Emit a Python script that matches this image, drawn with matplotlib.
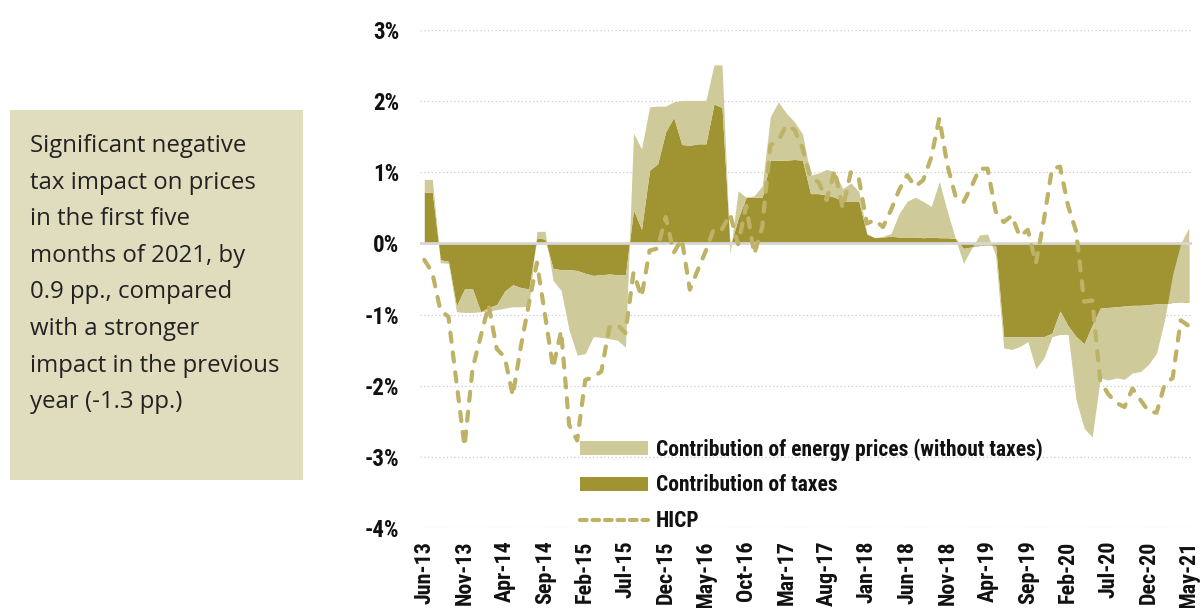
import matplotlib
matplotlib.use("Agg")
import matplotlib.pyplot as plt
from matplotlib import font_manager as fm
from matplotlib.patches import Rectangle, Patch
from matplotlib.lines import Line2D
import numpy as np

# monthly contributions, Jun-13 .. May-21 (pp.)
taxes = [
    0.72, 0.72, -0.23, -0.25, -0.88, -0.64, -0.64, -0.96, -0.90, -0.86,
    -0.67, -0.58, -0.62, -0.64, 0.08, 0.06, -0.35, -0.37, -0.37, -0.38,
    -0.42, -0.45, -0.44, -0.43, -0.44, -0.44, 0.47, 0.20, 1.03, 1.12,
    1.57, 1.77, 1.39, 1.38, 1.40, 1.40, 1.96, 1.91, -0.05, 0.35,
    0.65, 0.65, 0.65, 1.17, 1.17, 1.17, 1.18, 1.17, 0.70, 0.70,
    0.68, 0.65, 0.60, 0.59, 0.59, 0.13, 0.08, 0.09, 0.10, 0.09,
    0.09, 0.09, 0.08, 0.09, 0.08, 0.08, 0.07, -0.07, -0.05, -0.03,
    -0.02, -0.03, -1.31, -1.31, -1.31, -1.31, -1.31, -1.31, -1.26, -0.95,
    -1.16, -1.31, -1.41, -1.15, -0.91, -0.90, -0.89, -0.88, -0.87, -0.87,
    -0.86, -0.85, -0.85, -0.83, -0.82, -0.83,
]
energy = [
    0.18, 0.18, -0.04, -0.03, -0.08, -0.33, -0.33, 0.00, -0.05, -0.07,
    -0.24, -0.31, -0.27, -0.24, 0.09, 0.11, -0.17, -0.29, -0.85, -1.19,
    -1.13, -0.86, -0.88, -0.91, -0.92, -1.02, 1.08, 1.13, 0.89, 0.81,
    0.36, 0.22, 0.62, 0.63, 0.61, 0.61, 0.55, 0.60, -0.10, 0.39,
    0.00, 0.02, 0.16, 0.61, 0.82, 0.66, 0.53, 0.37, 0.26, 0.29,
    0.36, 0.36, 0.17, 0.26, 0.14, 0.01, 0.00, 0.01, 0.04, 0.33,
    0.50, 0.56, 0.51, 0.43, 0.79, 0.37, 0.00, -0.21, -0.02, 0.15,
    0.15, -0.14, -0.16, -0.18, -0.14, -0.07, -0.45, -0.30, -0.05, -0.33,
    -0.12, -0.89, -1.19, -1.57, -0.98, -1.02, -1.00, -1.03, -0.95, -0.93,
    -0.84, -0.69, -0.22, 0.40, 0.82, 1.05,
]
hicp = [
    -0.23, -0.41, -0.94, -1.03, -1.95, -2.85, -1.76, -1.31, -0.87, -1.48,
    -1.60, -2.14, -1.45, -0.85, -0.27, -1.00, -1.75, -1.23, -2.55, -2.77,
    -1.92, -1.88, -1.80, -1.18, -1.14, -1.26, -0.41, -0.75, -0.10, -0.07,
    0.37, -0.13, 0.06, -0.65, -0.37, -0.10, 0.21, 0.20, 0.41, -0.01,
    0.53, -0.15, 0.23, 1.38, 1.45, 1.66, 1.60, 1.34, 0.93, 0.86,
    0.61, 1.03, 0.49, 1.00, 0.91, 0.28, 0.33, 0.23, 0.47, 0.75,
    0.96, 0.80, 0.89, 1.21, 1.76, 1.10, 0.67, 0.58, 0.80, 1.05,
    1.05, 0.45, 0.30, 0.39, 0.10, 0.19, -0.28, 0.33, 1.05, 1.08,
    0.53, 0.17, -0.82, -0.80, -1.93, -2.12, -2.24, -2.30, -2.04, -2.20,
    -2.36, -2.38, -1.98, -1.89, -1.08, -1.16,
]
tick_labels = [
    "Jun-13", "Nov-13", "Apr-14", "Sep-14", "Feb-15", "Jul-15", "Dec-15",
    "May-16", "Oct-16", "Mar-17", "Aug-17", "Jan-18", "Jun-18", "Nov-18",
    "Apr-19", "Sep-19", "Feb-20", "Jul-20", "Dec-20", "May-21",
]
y_ticks = [-4, -3, -2, -1, 0, 1, 2, 3]
y_tick_labels = ["-4%", "-3%", "-2%", "-1%", "0%", "1%", "2%", "3%"]
legend_labels = [
    "Contribution of energy prices (without taxes)",
    "Contribution of taxes",
    "HICP",
]
note_lines = [
    "Significant negative",
    "tax impact on prices",
    "in the first five",
    "months of 2021, by",
    "0.9 pp., compared",
    "with a stronger",
    "impact in the previous",
    "year (-1.3 pp.)",
]

DARK = "#A09332"
LIGHT = "#CFCA99"
LINE = "#BEB266"
BOX = "#E0DCBE"


def pick_font(*names):
    for n in names:
        try:
            fm.findfont(fm.FontProperties(family=n), fallback_to_default=False)
            return n
        except ValueError:
            continue
    return "DejaVu Sans"


label_font = pick_font("Roboto Condensed", "Liberation Sans Narrow",
                       "Liberation Sans")
label_kw = dict(family=label_font, weight="bold")
note_font = pick_font("Open Sans", "Noto Sans", "DejaVu Sans")

W, H = 1201, 608
fig = plt.figure(figsize=(W / 100, H / 100), dpi=100)


def px(x, y):
    return x / W, 1 - y / H


ax_l, ax_r, ax_t, ax_b = 420, 1192, 30, 528
ax = fig.add_axes([ax_l / W, (H - ax_b) / H, (ax_r - ax_l) / W, (ax_b - ax_t) / H])

x = np.arange(len(taxes))
tax_arr = np.array(taxes)
top = tax_arr + np.array(energy)

ax.fill_between(x, 0, tax_arr, color=DARK, linewidth=0, zorder=2)
ax.fill_between(x, tax_arr, top, color=LIGHT, linewidth=0, zorder=3)
ax.axhline(0, color="#D6D6D6", linewidth=2.0, zorder=4)
ax.plot(x, hicp, color=LINE, linewidth=3.0, dashes=(2.2, 2.6),
        dash_capstyle="round", zorder=5)

for v in y_ticks:
    if v != 0:
        ax.axhline(v, color="#CCCCCC", linewidth=0.9, linestyle=(0, (1, 2)),
                   zorder=1)

ax.set_xlim(-0.53, 95.4)
ax.set_ylim(-4, 3)
ax.set_yticks(y_ticks)
ax.set_yticklabels(y_tick_labels, fontsize=16.5, color="#111111", **label_kw)
ax.set_xticks(x[::5])
ax.set_xticklabels(tick_labels, rotation=90, fontsize=15.8, color="#111111",
                   **label_kw)
ax.tick_params(axis="both", length=0)
ax.tick_params(axis="y", pad=15)
ax.tick_params(axis="x", pad=9)
for s in ax.spines.values():
    s.set_visible(False)

handles = [
    Patch(facecolor=LIGHT, edgecolor="none"),
    Patch(facecolor=DARK, edgecolor="none"),
    Line2D([0], [0], color=LINE, linewidth=3.0, dashes=(1.6, 1.4),
           dash_capstyle="round"),
]
leg = ax.legend(handles, legend_labels, loc="upper left",
                bbox_to_anchor=px(580, 438), bbox_transform=fig.transFigure,
                frameon=False, borderpad=0, borderaxespad=0,
                handlelength=3.16, handleheight=0.6, handletextpad=0.37,
                labelspacing=0.64,
                prop=fm.FontProperties(size=15.5, **label_kw))
for t in leg.get_texts():
    t.set_color("#111111")

# side note
fig.patches.append(Rectangle(px(10, 480), 293 / W, 370 / H,
                             transform=fig.transFigure, facecolor=BOX,
                             edgecolor="none", zorder=0))
for k, line in enumerate(note_lines):
    fig.text(*px(30, 152 + 36.6 * k), line, family=note_font, fontsize=17.3,
             color="#222222", va="baseline", ha="left")

fig.savefig("out.png", dpi=100)
